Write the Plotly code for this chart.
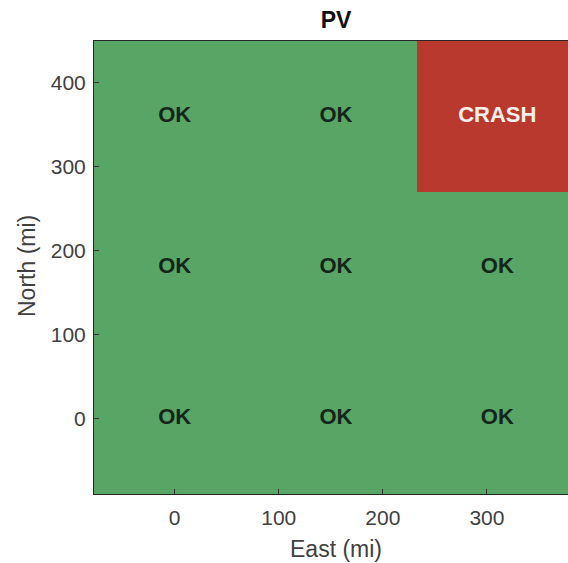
import plotly.graph_objects as go

# grid of test positions (cell centres, miles)
east = [0, 155, 310]
north = [0, 180, 360]
# 0 = OK, 1 = CRASH; rows follow north, columns follow east
status = [
    [0, 0, 0],
    [0, 0, 0],
    [0, 0, 1],
]
labels = ["OK", "CRASH"]

GREEN = "#59a565"
RED = "#b9392f"
FONT = "Liberation Sans, Arial"

W, H = 568, 563
L, R, T, B = 94, 0, 41, 69          # plot box: x 94..568, y 41..494

fig = go.Figure()

fig.add_trace(go.Heatmap(
    x=east,
    y=north,
    z=status,
    zmin=0,
    zmax=1,
    colorscale=[[0, GREEN], [0.5, GREEN], [0.5, RED], [1, RED]],
    showscale=False,
    hoverinfo="skip",
))

# cell labels
tx, ty, tt, tc = [], [], [], []
for i, yv in enumerate(north):
    for j, xv in enumerate(east):
        s = status[i][j]
        tx.append(xv)
        ty.append(yv)
        tt.append(labels[s])
        tc.append("#f6f0ea" if s else "#13261a")

fig.add_trace(go.Scatter(
    x=tx, y=ty, text=tt, mode="text",
    textposition="middle center",
    textfont=dict(family=FONT, size=22, color=tc, weight="bold"),
    hoverinfo="skip",
    showlegend=False,
))

tick_font = dict(family=FONT, size=21, color="#404040")


def px_to_paper(px_x, px_y):
    return (px_x - L) / (W - L - R), (H - B - px_y) / (H - B - T)


ex, ey = px_to_paper(336, 549)
nx, ny = px_to_paper(27, 266)

fig.update_layout(
    width=W,
    height=H,
    margin=dict(l=L, r=R, t=T, b=B),
    paper_bgcolor="white",
    plot_bgcolor="white",
    showlegend=False,
    title=dict(
        text="<b>PV</b>",
        x=336 / W, xref="container", xanchor="center",
        y=1 - 20 / H, yref="container", yanchor="middle",
        font=dict(family=FONT, size=23, color="#111111"),
    ),
    xaxis=dict(
        range=[-77.5, 377.9],
        tickvals=[0, 100, 200, 300],
        ticks="inside", ticklen=5, tickcolor="#333333",
        ticklabelstandoff=5,
        showline=True, linecolor="#262626", linewidth=1, mirror=True,
        showgrid=False, zeroline=False,
        tickfont=tick_font,
    ),
    yaxis=dict(
        range=[-90, 450],
        tickvals=[0, 100, 200, 300, 400],
        ticks="inside", ticklen=5, tickcolor="#333333",
        ticklabelstandoff=3,
        showline=True, linecolor="#262626", linewidth=1,
        showgrid=False, zeroline=False,
        tickfont=tick_font,
    ),
    annotations=[
        dict(text="East (mi)", x=ex, y=ey,
             xref="paper", yref="paper", showarrow=False,
             xanchor="center", yanchor="middle",
             font=dict(family=FONT, size=23, color="#404040")),
        dict(text="North (mi)", x=nx, y=ny,
             xref="paper", yref="paper", showarrow=False, textangle=-90,
             xanchor="center", yanchor="middle",
             font=dict(family=FONT, size=23, color="#404040")),
    ],
)

fig.write_html(
    "out.html",
    config={"displayModeBar": False},
    post_script="document.body.style.margin='0';",
)
